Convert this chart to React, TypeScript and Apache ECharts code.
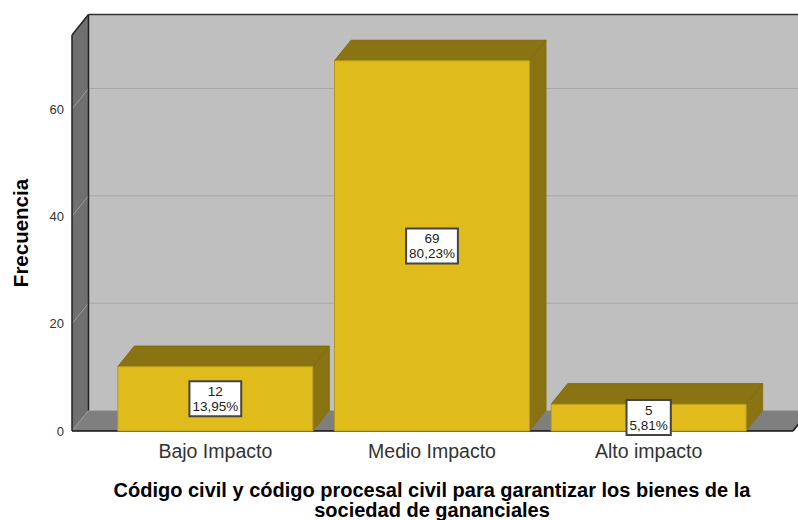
import React, { useEffect, useRef } from "react";
import * as echarts from "echarts";

const categories = ["Bajo Impacto", "Medio Impacto", "Alto impacto"];
const counts = [12, 69, 5];
const percents = ["13,95%", "80,23%", "5,81%"];
const gridTicks = [0, 20, 40, 60];
const yTitle = "Frecuencia";
const xTitle = "Código civil y código procesal civil para garantizar los bienes de la\nsociedad de gananciales";

const FONT = "'Liberation Sans', Arial, sans-serif";
const DX = 16.5;
const DY = -20.5;
const PAD_L = 35;
const PAD_R = 36;

function poly(points: number[][], fill: string, stroke?: string, lineWidth = 1) {
  return {
    type: "polygon",
    shape: { points },
    style: { fill, stroke: stroke ?? "none", lineWidth },
  };
}
function seg(a: number[], b: number[], stroke: string, lineWidth = 1) {
  return {
    type: "line",
    shape: { x1: a[0], y1: a[1], x2: b[0], y2: b[1] },
    style: { stroke, lineWidth },
  };
}

function renderWalls(params: any, api: any) {
  const band = api.size([1, 0])[0];
  const left = api.coord([0, 0])[0] - band / 2 - PAD_L;
  const right = api.coord([2, 0])[0] + band / 2 + PAD_R;
  const bottom = api.coord([0, 0])[1];
  const top = bottom - params.coordSys.height;
  const children: any[] = [
    poly([[left + DX, top + DY], [right + DX, top + DY], [right + DX, bottom + DY], [left + DX, bottom + DY]], "#bfbfbf"),
    poly([[left, top], [left + DX, top + DY], [left + DX, bottom + DY], [left, bottom]], "#707070"),
    poly([[left, bottom], [left + DX, bottom + DY], [right + DX, bottom + DY], [right, bottom]], "#7f7f7f"),
  ];
  gridTicks.forEach((v) => {
    const y = api.coord([0, v])[1];
    children.push(seg([left, y], [left + DX, y + DY], "#9a9a9a"));
    children.push(seg([left + DX, y + DY], [right + DX, y + DY], "#a6a6a6"));
  });
  children.push(seg([left, top], [left, bottom], "#222", 1.5));
  children.push(seg([left, top], [left + DX, top + DY], "#222", 1.5));
  children.push(seg([left + DX, top + DY], [right + DX, top + DY], "#333", 1.5));
  children.push(seg([left + DX, top + DY], [left + DX, bottom + DY], "#222", 1.5));
  children.push(seg([left, bottom], [right, bottom], "#111", 1.5));
  children.push(seg([right, bottom], [right + DX, bottom + DY], "#111", 1.5));
  return { type: "group", children };
}

function renderBar(params: any, api: any) {
  const i = api.value(0);
  const v = api.value(1);
  const [cx, yTop] = api.coord([i, v]);
  const yBase = api.coord([i, 0])[1];
  const w = api.size([1, 0])[0] * 0.9;
  const l = cx - w / 2;
  const r = cx + w / 2;
  const edge = "#8a7312";
  return {
    type: "group",
    children: [
      poly([[r, yTop], [r + DX, yTop + DY], [r + DX, yBase + DY], [r, yBase]], "#8a7312", edge),
      poly([[l, yTop], [l + DX, yTop + DY], [r + DX, yTop + DY], [r, yTop]], "#8a7312", "#7d6a14"),
      poly([[l, yTop], [r, yTop], [r, yBase], [l, yBase]], "#e0bb1c", "#b39a1c"),
      {
        type: "text",
        x: cx,
        y: (yTop + yBase) / 2,
        style: {
          text: `${counts[params.dataIndex]}\n${percents[params.dataIndex]}`,
          fontFamily: FONT,
          fontSize: 13.5,
          lineHeight: 15,
          fill: "#222",
          align: "center",
          verticalAlign: "middle",
          backgroundColor: "#ffffff",
          borderColor: "#444444",
          borderWidth: 2,
          padding: [2, 2, 1, 2],
        },
      },
    ],
  };
}

export default function App() {
  const ref = useRef<HTMLDivElement>(null);
  useEffect(() => {
    document.body.style.margin = "0";
    const chart = echarts.init(ref.current!, null, { renderer: "svg" });
    chart.setOption({
      animation: false,
      backgroundColor: "#ffffff",
      grid: { left: 107, right: 41, top: 35, bottom: 89, outerBoundsMode: "none" },
      xAxis: {
        type: "category",
        data: categories,
        axisLine: { show: false },
        axisTick: { show: false },
        axisLabel: { fontFamily: FONT, fontSize: 19.5, color: "#333", margin: 10 },
        name: xTitle,
        nameLocation: "middle",
        nameGap: 49,
        nameTextStyle: { fontFamily: FONT, fontSize: 20, fontWeight: "bold", color: "#000", lineHeight: 20 },
      },
      yAxis: {
        type: "value",
        min: 0,
        max: 73.8,
        interval: 20,
        offset: 35,
        splitLine: { show: false },
        axisLine: { show: false },
        axisTick: { show: false },
        axisLabel: { fontFamily: FONT, fontSize: 13, color: "#333", margin: 8, showMaxLabel: false },
        name: yTitle,
        nameLocation: "middle",
        nameGap: 41,
        nameRotate: 90,
        nameTextStyle: { fontFamily: FONT, fontSize: 20.5, fontWeight: "bold", color: "#000" },
      },
      series: [
        { type: "custom", silent: true, clip: false, z: 1, renderItem: renderWalls, data: [[0, 0]], encode: { x: 0, y: 1 } },
        { type: "custom", silent: true, clip: false, z: 2, renderItem: renderBar, data: counts.map((v, i) => [i, v]), encode: { x: 0, y: 1 } },
      ],
    });
    return () => chart.dispose();
  }, []);
  return <div ref={ref} style={{ width: 798, height: 520 }} />;
}
